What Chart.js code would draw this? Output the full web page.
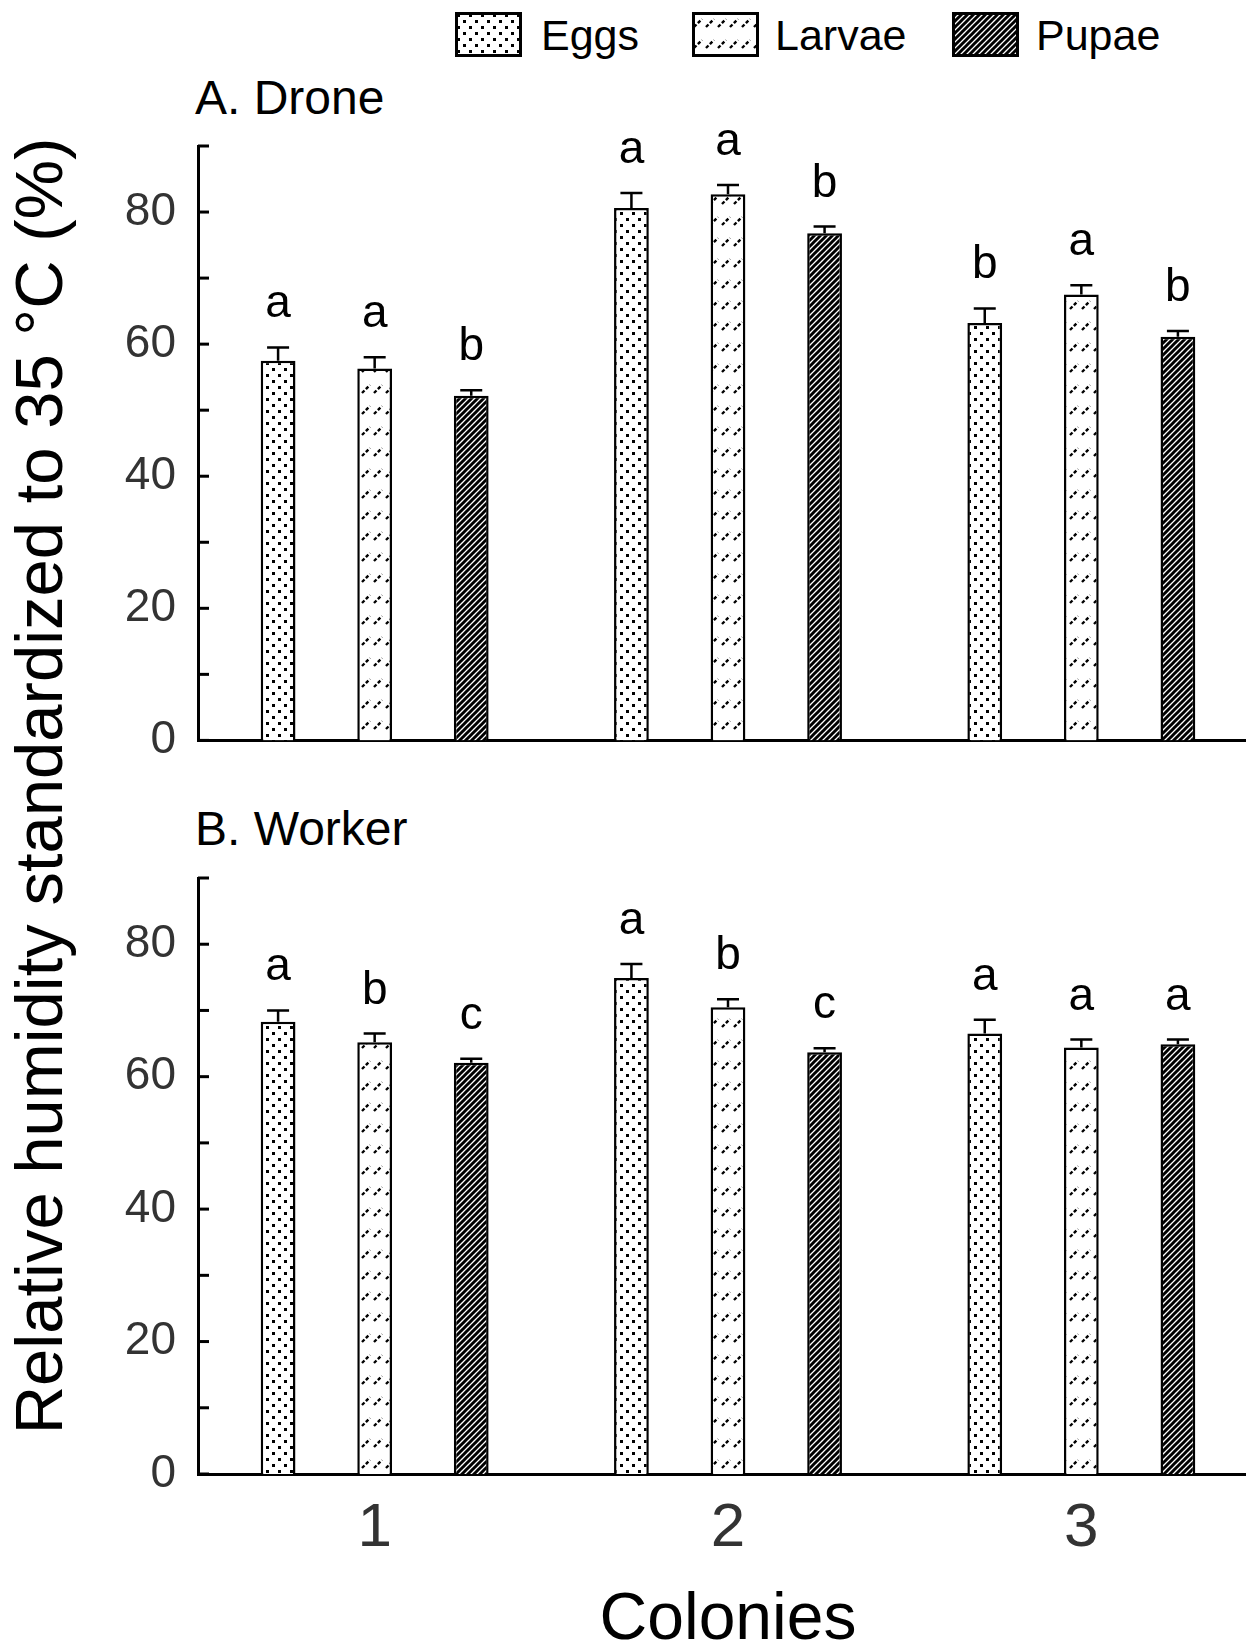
<!DOCTYPE html>
<html lang="en">
<head>
<meta charset="UTF-8" />
<title>Relative humidity standardized to 35 °C</title>
<script src="https://cdn.jsdelivr.net/npm/chart.js"></script>
<style>
    body { margin: 0; background: #fff; font-family: 'Liberation Sans', Arial, sans-serif; }
    #wrap { position: relative; width: 1246px; height: 1642px; overflow: hidden; }
    canvas.panel { position: absolute; left: 0; }
    .txt { position: absolute; line-height: 1; white-space: nowrap; color: #000; }
    .panelTitle { font-size: 48px; left: 195px; }
    .legBox { position: absolute; top: 12px; width: 67px; height: 45px; }
    .legTxt { font-size: 43px; top: 14px; }
    #ytitle { font-size: 67px; left: 38px; top: 786px; transform: translate(-50%, -50%) rotate(-90deg); }
</style>
</head>
<body>
<div id="wrap">
    <canvas id="legEggs" class="legBox" width="67" height="45" style="left:455px"></canvas>
    <div class="txt legTxt" style="left:541px">Eggs</div>
    <canvas id="legLarvae" class="legBox" width="67" height="45" style="left:692px"></canvas>
    <div class="txt legTxt" style="left:775px">Larvae</div>
    <canvas id="legPupae" class="legBox" width="67" height="45" style="left:952px"></canvas>
    <div class="txt legTxt" style="left:1036px">Pupae</div>

    <div class="txt panelTitle" style="top:74px">A. Drone</div>
    <div class="txt panelTitle" style="top:805px">B. Worker</div>
    <div class="txt" id="ytitle">Relative humidity standardized to 35 °C (%)</div>

    <!-- canvases are a bit wider than the page so the three colony bands line up with the original -->
    <canvas id="drone" class="panel" width="1258" height="790" style="top:0"></canvas>
    <canvas id="worker" class="panel" width="1258" height="882" style="top:760px"></canvas>
</div>

<script>
    const colonies = ['1', '2', '3']
    const stages = ['Eggs', 'Larvae', 'Pupae']

    // A. Drone
    const droneEggs = [57.5, 80.6, 63.2]
    const droneLarvae = [56.3, 82.7, 67.5]
    const dronePupae = [52.2, 76.8, 61.1]
    const droneEggsErr = [2.0, 2.3, 2.2]
    const droneLarvaeErr = [1.7, 1.4, 1.4]
    const dronePupaeErr = [0.8, 1.0, 0.9]
    const droneEggsLetters = ['a', 'a', 'b']
    const droneLarvaeLetters = ['a', 'a', 'a']
    const dronePupaeLetters = ['b', 'b', 'b']

    // B. Worker
    const workerEggs = [68.3, 74.9, 66.5]
    const workerLarvae = [65.2, 70.5, 64.4]
    const workerPupae = [62.1, 63.7, 64.9]
    const workerEggsErr = [1.7, 2.1, 2.1]
    const workerLarvaeErr = [1.3, 1.2, 1.2]
    const workerPupaeErr = [0.6, 0.6, 0.7]
    const workerEggsLetters = ['a', 'a', 'a']
    const workerLarvaeLetters = ['b', 'b', 'a']
    const workerPupaeLetters = ['c', 'c', 'a']

    const yTicksMax = 90
    const yTickStep = 10

    function makePattern(kind) {
        const c = document.createElement('canvas')
        const g = c.getContext('2d')
        if (kind === 'Eggs') {
            c.width = 12; c.height = 12
            g.fillStyle = '#fff'; g.fillRect(0, 0, 12, 12)
            g.fillStyle = '#000'
            g.fillRect(2, 2, 3, 3)
            g.fillRect(8, 8, 3, 3)
        } else if (kind === 'Larvae') {
            c.width = 12; c.height = 21
            g.fillStyle = '#fff'; g.fillRect(0, 0, 12, 21)
            g.strokeStyle = '#000'
            g.lineWidth = 2.4
            g.setLineDash([3.5, 2])
            g.beginPath(); g.moveTo(2, 15); g.lineTo(10, 7); g.stroke()
        } else {
            c.width = 6; c.height = 6
            g.fillStyle = '#fff'; g.fillRect(0, 0, 6, 6)
            g.strokeStyle = '#000'
            g.lineWidth = 3
            g.beginPath()
            g.moveTo(-1, 7); g.lineTo(7, -1)
            g.moveTo(-1, 1); g.lineTo(1, -1)
            g.moveTo(5, 7); g.lineTo(7, 5)
            g.stroke()
        }
        return g.createPattern(c, 'repeat')
    }

    const fills = {}
    stages.forEach(s => { fills[s] = makePattern(s) })

    // legend swatches
    stages.forEach(s => {
        const cv = document.getElementById('leg' + s)
        const g = cv.getContext('2d')
        g.fillStyle = fills[s]
        g.fillRect(0, 0, cv.width, cv.height)
        g.strokeStyle = '#000'
        g.lineWidth = 3
        g.strokeRect(1.5, 1.5, cv.width - 3, cv.height - 3)
    })

    const barExtras = {
        id: 'barExtras',
        afterDatasetsDraw(chart) {
            const { ctx, chartArea, scales: { y } } = chart
            ctx.save()
            ctx.strokeStyle = '#000'
            ctx.lineWidth = 3
            // inward tick marks on the y axis
            y.ticks.forEach(t => {
                const py = y.getPixelForValue(t.value)
                ctx.beginPath()
                ctx.moveTo(chartArea.left, py)
                ctx.lineTo(chartArea.left + 11, py)
                ctx.stroke()
            })
            // error bars and letters
            ctx.lineWidth = 2.5
            ctx.fillStyle = '#000'
            ctx.font = '46px "Liberation Sans", Arial, sans-serif'
            ctx.textAlign = 'center'
            ctx.textBaseline = 'alphabetic'
            chart.data.datasets.forEach((ds, i) => {
                chart.getDatasetMeta(i).data.forEach((bar, j) => {
                    const top = y.getPixelForValue(ds.data[j] + ds.errors[j])
                    ctx.beginPath()
                    ctx.moveTo(bar.x, bar.y)
                    ctx.lineTo(bar.x, top)
                    ctx.moveTo(bar.x - 11, top)
                    ctx.lineTo(bar.x + 11, top)
                    ctx.stroke()
                    ctx.fillText(ds.letters[j], bar.x, top - 30)
                })
            })
            ctx.restore()
        },
    }

    function makeDatasets(values, errors, letters) {
        return stages.map((s, i) => ({
            label: s,
            data: values[i],
            errors: errors[i],
            letters: letters[i],
            backgroundColor: fills[s],
            borderColor: '#000',
            borderWidth: 2.5,
            categoryPercentage: 0.82,
            barPercentage: 0.36,
        }))
    }

    function makeConfig(datasets, bottom) {
        return {
            type: 'bar',
            data: { labels: colonies, datasets: datasets },
            options: {
                responsive: false,
                animation: false,
                layout: { padding: { top: bottom ? 118 : 146, right: 0, left: 0, bottom: 0 } },
                plugins: { legend: { display: false }, tooltip: { enabled: false } },
                scales: {
                    x: {
                        grid: { display: false, drawTicks: false },
                        border: { color: '#000', width: 3 },
                        ticks: {
                            display: bottom,
                            color: '#333',
                            padding: 18,
                            font: { size: 62, family: 'Liberation Sans' },
                        },
                        title: {
                            display: bottom,
                            text: 'Colonies',
                            color: '#000',
                            font: { size: 66, family: 'Liberation Sans', lineHeight: 1 },
                            padding: { top: 0, bottom: -12 },
                        },
                        afterFit(scale) { scale.height = bottom ? 168 : 0 },
                    },
                    y: {
                        min: 0,
                        max: yTicksMax,
                        grid: { display: false, drawTicks: false },
                        border: { color: '#000', width: 3 },
                        ticks: {
                            stepSize: yTickStep,
                            color: '#333',
                            padding: 22,
                            font: { size: 46, family: 'Liberation Sans' },
                            callback: v => (v % 20 === 0 ? v : ''),
                        },
                        afterFit(scale) { scale.width = 198 },
                    },
                },
            },
            plugins: [barExtras],
        }
    }

    new Chart(document.getElementById('drone'), makeConfig(makeDatasets(
        [droneEggs, droneLarvae, dronePupae],
        [droneEggsErr, droneLarvaeErr, dronePupaeErr],
        [droneEggsLetters, droneLarvaeLetters, dronePupaeLetters]), false))

    new Chart(document.getElementById('worker'), makeConfig(makeDatasets(
        [workerEggs, workerLarvae, workerPupae],
        [workerEggsErr, workerLarvaeErr, workerPupaeErr],
        [workerEggsLetters, workerLarvaeLetters, workerPupaeLetters]), true))
</script>
</body>
</html>
